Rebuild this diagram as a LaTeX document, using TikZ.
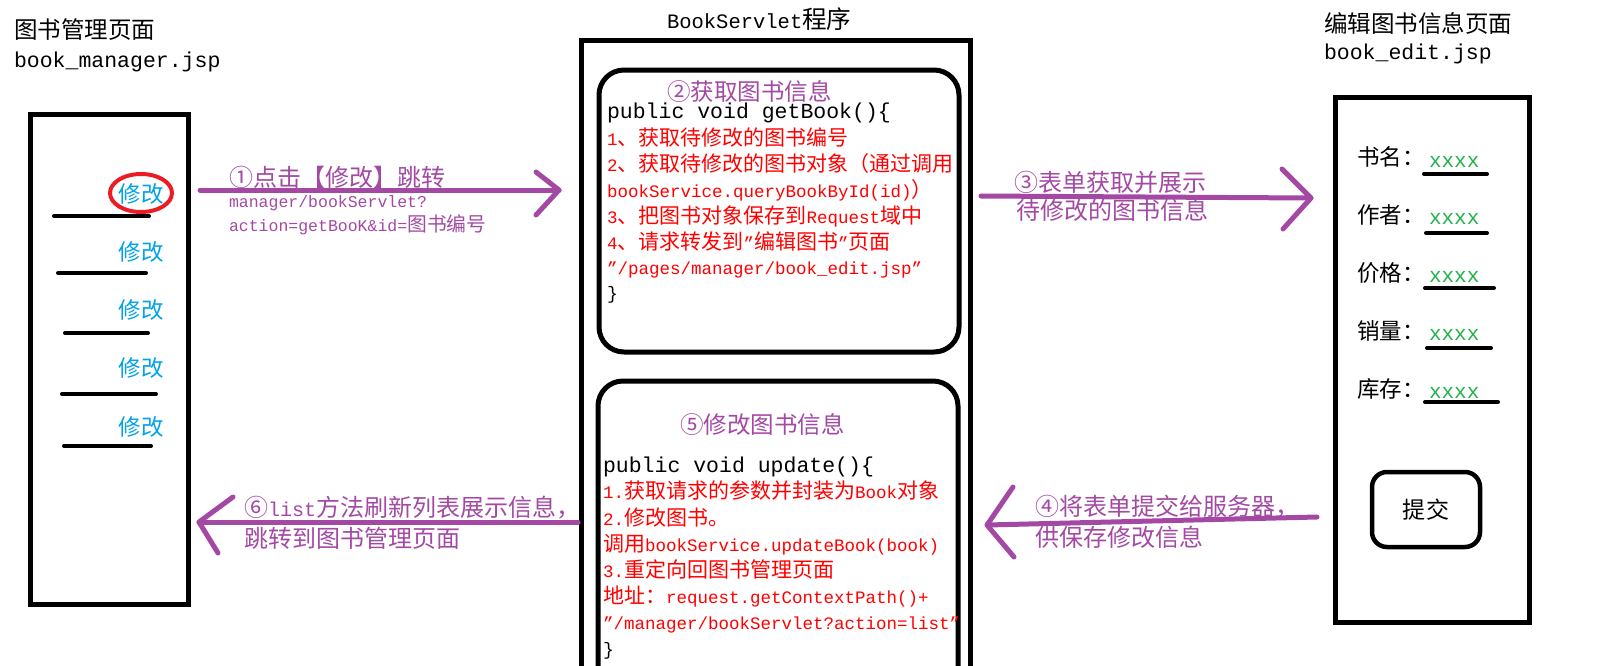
\documentclass[tikz,border=0pt]{standalone}
\usepackage{fontspec}
\setmainfont{Liberation Mono}
\newfontfamily\cjk[Scale=1.2]{Noto Sans CJK SC}
\usetikzlibrary{shapes.geometric}
\definecolor{ppl}{HTML}{A349A4}
\definecolor{rd}{HTML}{FF0000}
\definecolor{blu}{HTML}{00A2E8}
\definecolor{grn}{HTML}{22B14C}
\definecolor{ellred}{HTML}{ED1C24}
\begin{document}
\begin{tikzpicture}[x=1pt,y=-1pt,
  box/.style={draw=black,line width=5pt,inner sep=0pt},
  itemline/.style={draw=black,line width=4pt,line cap=round},
  arrowline/.style={draw=ppl,line width=5pt,line cap=round,line join=round},
  txt/.style={inner sep=0pt,outer sep=0pt,anchor=base west},
  ctxt/.style={inner sep=0pt,outer sep=0pt,anchor=west},
  title/.style={ctxt,font=\fontsize{19.6}{20}\selectfont\cjk},
  fname/.style={txt,font=\fontsize{21.5}{22}\selectfont},
  modify/.style={inner sep=0pt,text=blu,font=\fontsize{18.75}{19}\selectfont\cjk},
  plabel/.style={ctxt,text=ppl,font=\fontsize{20}{20}\selectfont\cjk},
  plabelm/.style={ctxt,text=ppl,font=\fontsize{20}{20}\selectfont},
  purl/.style={txt,text=ppl,font=\fontsize{16.5}{17}\selectfont},
  code/.style={txt,font=\fontsize{21.5}{22}\selectfont},
  redline/.style={txt,text=rd,font=\fontsize{17.5}{18}\selectfont},
  brace/.style={txt,font=\fontsize{18}{18}\selectfont},
  flabel/.style={ctxt,font=\fontsize{18.75}{19}\selectfont\cjk},
  fval/.style={txt,text=grn,font=\fontsize{21}{21}\selectfont},
  fline/.style={draw=black,line width=4pt,line cap=round}
]
\path[use as bounding box] (0,0) rectangle (1612,665);
\clip (0,0) rectangle (1612,665);

% ---------- left page ----------
\node[title] (t1) at (14,30) {图书管理页面};
\node[fname] (t1b) at (14,67) {book\_manager.jsp};
\node[box,minimum width=158pt,minimum height=490pt] (listbox) at (109,359) {};

\node[modify] (m1) at (141,194) {修改};
\node[modify] (m2) at (141,252) {修改};
\node[modify] (m3) at (141,310) {修改};
\node[modify] (m4) at (141,368) {修改};
\node[modify] (m5) at (141,427) {修改};
\node[draw=ellred,line width=4pt,ellipse,minimum width=62pt,minimum height=38pt,inner sep=0pt] (circ) at (141,193) {};
\draw[itemline] (54,216) -- (149,216);
\draw[itemline] (58,273) -- (146,273);
\draw[itemline] (65,333) -- (148,333);
\draw[itemline] (62,394) -- (156,394);
\draw[itemline] (64,446) -- (151,446);

% ---------- servlet ----------
\node[txt,font=\fontsize{20.5}{21}\selectfont] (st) at (667,28) {BookServlet{\cjk 程序}};
\node[box,minimum width=389pt,minimum height=660pt] (servlet) at (775.5,370) {};
\node[box,rounded corners=25pt,minimum width=360pt,minimum height=282pt] (getbook) at (779,211) {};
\node[box,rounded corners=25pt,minimum width=360pt,minimum height=340pt] (update) at (778,551) {};

\node[title,text=ppl] (s2) at (667,92) {②获取图书信息};
\node[code] (c1) at (607,118) {public void getBook()\{};
\node[redline] (r1) at (607,145) {1{\cjk 、获取待修改的图书编号}};
\node[redline] (r2) at (607,171) {2{\cjk 、获取待修改的图书对象（通过调用}};
\node[redline] (r3) at (607,197) {bookService.queryBookById(id){\cjk ）}};
\node[redline] (r4) at (607,223) {3{\cjk 、把图书对象保存到}Request{\cjk 域中}};
\node[redline] (r5) at (607,249) {4{\cjk 、请求转发到}"{\cjk 编辑图书}"{\cjk 页面}};
\node[redline] (r6) at (607,274) {"/pages/manager/book\_edit.jsp"};
\node[brace] (b1) at (607,299) {\}};

\node[title,text=ppl] (s5) at (680,425) {⑤修改图书信息};
\node[code] (c2) at (603,472) {public void update()\{};
\node[redline] (u1) at (603,498) {1.{\cjk 获取请求的参数并封装为}Book{\cjk 对象}};
\node[redline] (u2) at (603,525) {2.{\cjk 修改图书。}};
\node[redline] (u3) at (603,551) {{\cjk 调用}bookService.updateBook(book)};
\node[redline] (u4) at (603,577) {3.{\cjk 重定向回图书管理页面}};
\node[redline] (u5) at (603,603) {{\cjk 地址：}request.getContextPath()+};
\node[redline] (u6) at (603,629) {"/manager/bookServlet?action=list"};
\node[brace] (b2) at (603,655) {\}};

% ---------- edit page ----------
\node[title] (t3) at (1324,23) {编辑图书信息页面};
\node[fname] (t3b) at (1324,59) {book\_edit.jsp};
\node[box,minimum width=194pt,minimum height=525pt] (editbox) at (1432,359.5) {};

\node[flabel] (l1) at (1357,157) {书名：};
\node[flabel] (l2) at (1357,215) {作者：};
\node[flabel] (l3) at (1357,273) {价格：};
\node[flabel] (l4) at (1357,331) {销量：};
\node[flabel] (l5) at (1357,389) {库存：};
\node[fval] (v1) at (1429,167) {xxxx};
\node[fval] (v2) at (1429,224) {xxxx};
\node[fval] (v3) at (1429,282) {xxxx};
\node[fval] (v4) at (1429,340) {xxxx};
\node[fval] (v5) at (1429,398) {xxxx};
\draw[fline] (1424,174) -- (1487,174);
\draw[fline] (1426,233) -- (1487,233);
\draw[fline] (1425,288) -- (1494,288);
\draw[fline] (1427,348) -- (1491,348);
\draw[fline] (1425,402) -- (1498,402);

\node[draw=black,line width=4.5pt,rounded corners=15pt,minimum width=108pt,minimum height=75pt,inner sep=0pt,font=\fontsize{19.2}{20}\selectfont\cjk] (submit) at (1426,509.5) {提交};

% ---------- arrows ----------
\coordinate (a1s) at (200,190);
\coordinate (a1e) at (559,190);
\draw[arrowline] (a1s) -- (a1e);
\draw[arrowline] (a1e) ++(-23,-18) -- (a1e) -- ++(-23,25);
\node[plabel] (l1a) at (229,177) {①点击【修改】跳转};
\node[purl] (l1b) at (229,207) {manager/bookServlet?};
\node[purl] (l1c) at (229,231) {action=getBooK\&id={\cjk 图书编号}};

\coordinate (a3s) at (981,196);
\coordinate (a3e) at (1311,198);
\draw[arrowline] (a3s) -- (a3e);
\draw[arrowline] (a3e) ++(-29,-29) -- (a3e) -- ++(-28,31);
\node[plabel] (l3a) at (1014,182) {③表单获取并展示};
\node[plabel] (l3b) at (1016,210) {待修改的图书信息};

\coordinate (a4s) at (1317,517);
\coordinate (a4e) at (987,525);
\draw[arrowline] (a4s) -- (a4e);
\draw[arrowline] (a4e) ++(26,-38) -- (a4e) -- ++(27,32);
\node[plabel] (l4a) at (1035,507) {④将表单提交给服务器，};
\node[plabel] (l4b) at (1035,537) {供保存修改信息};

\coordinate (a6s) at (578,522);
\coordinate (a6e) at (199,522);
\draw[arrowline] (a6s) -- (a6e);
\draw[arrowline] (a6e) ++(34,-25) -- (a6e) -- ++(19,31);
\node[plabelm] (l6a) at (244,508) {{\cjk ⑥}list{\cjk 方法刷新列表展示信息，}};
\node[plabel] (l6b) at (244,538) {跳转到图书管理页面};
\end{tikzpicture}
\end{document}
